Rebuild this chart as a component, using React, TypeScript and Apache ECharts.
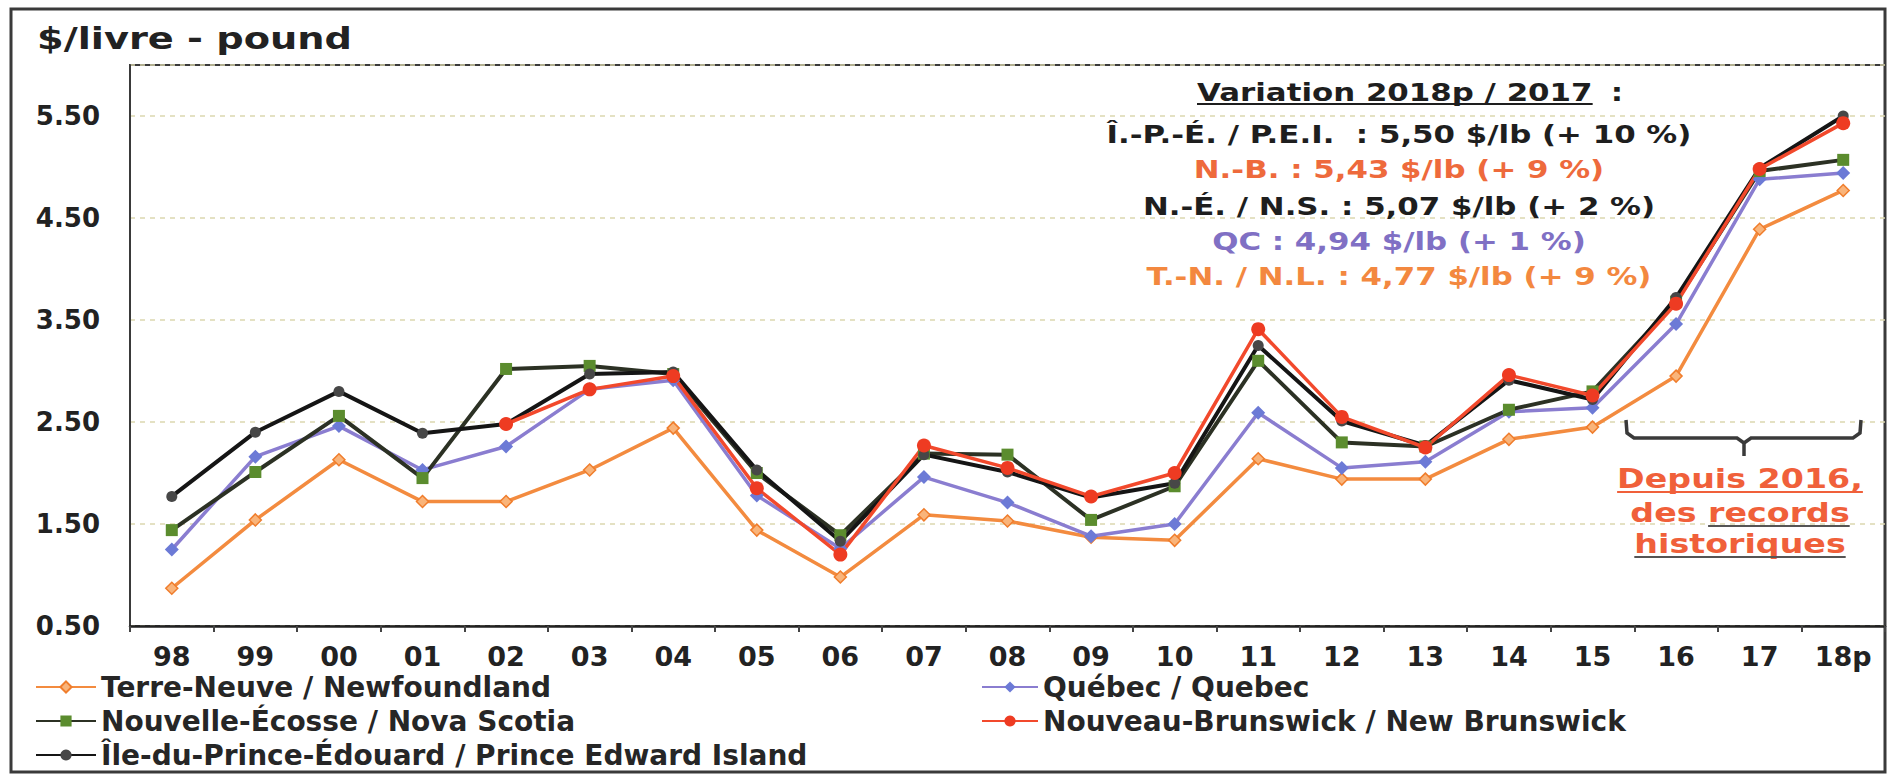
import React, { useEffect, useRef } from 'react';
import * as echarts from 'echarts';

const years = ['98', '99', '00', '01', '02', '03', '04', '05', '06', '07', '08', '09', '10', '11', '12', '13', '14', '15', '16', '17', '18p'];

const terreNeuve = [0.87, 1.54, 2.13, 1.72, 1.72, 2.03, 2.44, 1.44, 0.98, 1.59, 1.53, 1.37, 1.34, 2.14, 1.94, 1.94, 2.33, 2.45, 2.95, 4.39, 4.77];
const quebec = [1.25, 2.16, 2.46, 2.03, 2.26, 2.82, 2.91, 1.78, 1.26, 1.96, 1.71, 1.38, 1.5, 2.59, 2.05, 2.11, 2.6, 2.64, 3.46, 4.88, 4.94];
const nouvelleEcosse = [1.44, 2.01, 2.56, 1.95, 3.02, 3.05, 2.97, 2.0, 1.39, 2.19, 2.18, 1.54, 1.87, 3.1, 2.3, 2.26, 2.62, 2.8, 3.68, 4.96, 5.07];
const nouveauBrunswick = [null, null, null, null, 2.48, 2.82, 2.95, 1.85, 1.2, 2.27, 2.05, 1.77, 2.0, 3.41, 2.55, 2.25, 2.96, 2.76, 3.66, 4.98, 5.43];
const ilePrinceEdouard = [1.77, 2.4, 2.8, 2.39, 2.48, 2.97, 2.99, 2.03, 1.33, 2.18, 2.01, 1.76, 1.9, 3.25, 2.51, 2.27, 2.91, 2.72, 3.72, 4.99, 5.5];

const NAME_TN = 'Terre-Neuve / Newfoundland';
const NAME_QC = 'Québec / Quebec';
const NAME_NS = 'Nouvelle-Écosse / Nova Scotia';
const NAME_NB = 'Nouveau-Brunswick / New Brunswick';
const NAME_PE = 'Île-du-Prince-Édouard / Prince Edward Island';

const annotationLines = [
  { text: 'Î.-P.-É. / P.E.I.  : 5,50 $/lb (+ 10 %)', color: '#1e1e1e' },
  { text: 'N.-B. : 5,43 $/lb (+ 9 %)', color: '#ee6a3c' },
  { text: 'N.-É. / N.S. : 5,07 $/lb (+ 2 %)', color: '#1e1e1e' },
  { text: 'QC : 4,94 $/lb (+ 1 %)', color: '#8070c4' },
  { text: 'T.-N. / N.L. : 4,77 $/lb (+ 9 %)', color: '#f3883f' },
];

const FONT = '"DejaVu Sans", "Liberation Sans", sans-serif';

export default function App() {
  const ref = useRef<HTMLDivElement>(null);

  useEffect(() => {
    if (!ref.current) return;
    const chart = echarts.init(ref.current, undefined, { renderer: 'svg' });
    const ctx = document.createElement('canvas').getContext('2d') as CanvasRenderingContext2D;
    const measure = (t: string, size: number) => {
      ctx.font = `bold ${size}px "DejaVu Sans"`;
      return ctx.measureText(t).width;
    };

    const titleSize = 31;
    const titleScale = 315 / measure('$/livre - pound', titleSize);

    const annSize = 25;
    const annScale = 585 / measure(annotationLines[0].text, annSize);
    const annCenter = 1399;
    const annYs = [135, 170, 207, 242, 277];
    const headText = 'Variation 2018p / 2017';
    const headW = measure(headText, annSize) * annScale;
    const headLeft = 1197;

    const depSize = 26;
    const depScale = 1.28;
    const depCenter = 1740;
    const depColor = '#f0603a';
    const d1 = 'Depuis 2016,';
    const d2 = 'des records';
    const d3 = 'historiques';
    const w1 = measure(d1, depSize) * depScale;
    const w2 = measure(d2, depSize) * depScale;
    const w2a = measure('des ', depSize) * depScale;
    const w3 = measure(d3, depSize) * depScale;

    const txt = (text: string, x: number, y: number, size: number, color: string, scaleX: number, align: string) => ({
      type: 'text',
      x,
      y,
      scaleX,
      silent: true,
      z: 10,
      style: {
        text,
        fill: color,
        font: `bold ${size}px ${FONT}`,
        align,
        verticalAlign: 'middle',
      },
    });
    const uline = (x1: number, x2: number, y: number, color: string) => ({
      type: 'line',
      silent: true,
      z: 10,
      shape: { x1, y1: y, x2, y2: y },
      style: { stroke: color, lineWidth: 2 },
    });

    const graphic: any[] = [
      {
        type: 'rect',
        silent: true,
        z: 0,
        shape: { x: 11, y: 9, width: 1874, height: 763 },
        style: { fill: 'none', stroke: '#3a3a3a', lineWidth: 3 },
      },
      txt('$/livre - pound', 37, 38, titleSize, '#222222', titleScale, 'left'),
      txt(headText, headLeft, 93, annSize, '#1e1e1e', annScale, 'left'),
      txt(':', headLeft + headW + 18, 93, annSize, '#1e1e1e', annScale, 'left'),
      uline(headLeft, headLeft + headW, 104, '#1e1e1e'),
      ...annotationLines.map((l, i) => txt(l.text, annCenter, annYs[i], annSize, l.color, annScale, 'center')),
      {
        type: 'polyline',
        silent: true,
        z: 10,
        shape: {
          points: [
            [1626, 420], [1627, 433], [1634, 438], [1737, 438], [1744, 443], [1744, 456],
            [1744, 443], [1751, 438], [1853, 438], [1860, 433], [1861, 420],
          ],
        },
        style: { stroke: '#3a3a3a', lineWidth: 3.5, fill: 'none' },
      },
      txt(d1, depCenter, 479, depSize, depColor, depScale, 'center'),
      uline(depCenter - w1 / 2, depCenter + w1 / 2, 492, depColor),
      txt(d2, depCenter, 513, depSize, depColor, depScale, 'center'),
      uline(depCenter - w2 / 2 + w2a, depCenter + w2 / 2, 526, '#555'),
      txt(d3, depCenter, 544, depSize, depColor, depScale, 'center'),
      uline(depCenter - w3 / 2, depCenter + w3 / 2, 557, '#555'),
    ];

    const legendText = {
      color: '#262626',
      fontSize: 28,
      fontWeight: 'bold',
      fontFamily: FONT,
      lineHeight: 28,
    };

    const option: any = {
      animation: false,
      backgroundColor: '#ffffff',
      grid: {
        left: 130,
        right: 3,
        top: 65,
        bottom: 153,
        show: true,
        borderColor: '#3a3a3a',
        borderWidth: 2,
        outerBoundsMode: 'none',
      },
      xAxis: {
        type: 'category',
        data: years,
        boundaryGap: true,
        axisLine: { lineStyle: { color: '#222', width: 2.5 } },
        axisTick: { show: true, length: 6, lineStyle: { color: '#444', width: 2 } },
        axisLabel: {
          interval: 0,
          color: '#222',
          fontSize: 27,
          fontWeight: 'bold',
          fontFamily: FONT,
          margin: 17,
        },
        splitLine: { show: false },
      },
      yAxis: {
        type: 'value',
        min: 0.5,
        max: 6,
        interval: 1,
        axisLine: { show: true, lineStyle: { color: '#3a3a3a', width: 2 } },
        axisTick: { show: false },
        axisLabel: {
          showMaxLabel: false,
          formatter: (v: number) => v.toFixed(2),
          color: '#222',
          fontSize: 26,
          fontWeight: 'bold',
          fontFamily: FONT,
          margin: 30,
        },
        splitLine: { lineStyle: { color: '#dcd7b0', type: [5, 5], width: 1.5 } },
      },
      legend: [
        {
          orient: 'vertical',
          left: 30,
          top: 668,
          itemWidth: 60,
          itemHeight: 14,
          itemGap: 6,
          selectedMode: false,
          textStyle: legendText,
          data: [NAME_TN, NAME_NS, NAME_PE],
        },
        {
          orient: 'vertical',
          left: 976,
          top: 668,
          itemWidth: 56,
          itemHeight: 14,
          itemGap: 6,
          selectedMode: false,
          textStyle: legendText,
          data: [NAME_QC, NAME_NB],
        },
      ],
      series: [
        {
          name: NAME_TN,
          type: 'line',
          data: terreNeuve,
          symbol: 'diamond',
          symbolSize: 12,
          lineStyle: { color: '#f38b3f', width: 3.5 },
          itemStyle: { color: '#f9b47a', borderColor: '#f07d2c', borderWidth: 1.5 },
        },
        {
          name: NAME_QC,
          type: 'line',
          data: quebec,
          symbol: 'diamond',
          symbolSize: 14,
          lineStyle: { color: '#8a7dd0', width: 3.5 },
          itemStyle: { color: '#6c7ad6' },
        },
        {
          name: NAME_NS,
          type: 'line',
          data: nouvelleEcosse,
          symbol: 'rect',
          symbolSize: 12,
          lineStyle: { color: '#2c3124', width: 4 },
          itemStyle: { color: '#5b8c2e' },
        },
        {
          name: NAME_PE,
          type: 'line',
          data: ilePrinceEdouard,
          symbol: 'circle',
          symbolSize: 11,
          lineStyle: { color: '#151515', width: 4 },
          itemStyle: { color: '#474747' },
        },
        {
          name: NAME_NB,
          type: 'line',
          data: nouveauBrunswick,
          connectNulls: false,
          symbol: 'circle',
          symbolSize: 14,
          lineStyle: { color: '#f2492c', width: 3.5 },
          itemStyle: { color: '#ee3b22' },
        },
      ],
      graphic,
    };

    chart.setOption(option);
    return () => chart.dispose();
  }, []);

  return (
    <div
      ref={ref}
      style={{ position: 'absolute', left: 0, top: 0, width: 1888, height: 779, background: '#ffffff' }}
    />
  );
}
